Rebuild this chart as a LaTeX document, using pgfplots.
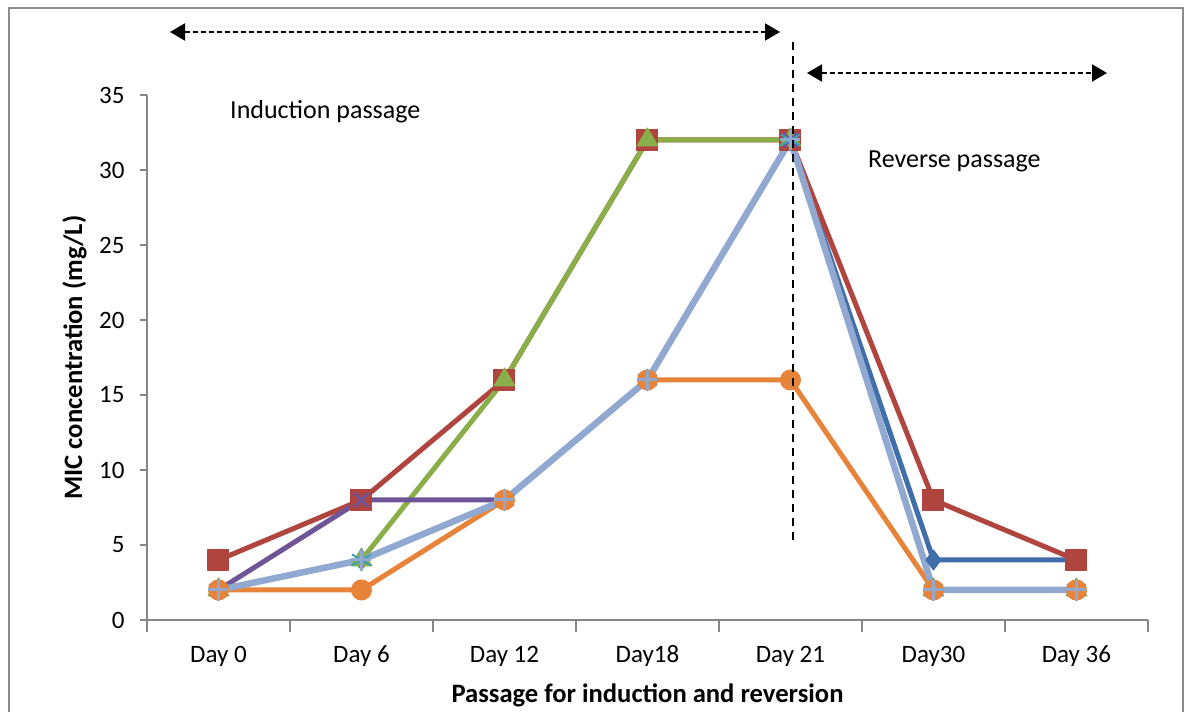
\documentclass[border=0pt]{standalone}
\usepackage{pgfplots}
\pgfplotsset{compat=1.18}
\usepackage{fontspec}
\setmainfont{Carlito}
\usetikzlibrary{arrows.meta}

\definecolor{sBlue}{HTML}{3F6EAA}
\definecolor{sRed}{HTML}{B0443F}
\definecolor{sGreen}{HTML}{8AAE48}
\definecolor{sPurple}{HTML}{6F5597}
\definecolor{sAqua}{HTML}{3FA0BA}
\definecolor{sOrange}{HTML}{E8843A}
\definecolor{sLight}{HTML}{91A9D1}
\definecolor{axisgray}{HTML}{868686}
\definecolor{framegray}{HTML}{8C8C8C}

\newcommand{\lblfont}{\fontsize{25}{30}\selectfont}
\newcommand{\notefont}{\fontsize{26}{31}\selectfont}
\newcommand{\titlefont}{\fontsize{26.6}{32}\selectfont\bfseries}

\begin{document}
\begin{tikzpicture}[x=1pt,y=1pt]
\useasboundingbox (0,0) rectangle (1192,712);
\fill[white] (0,0) rectangle (1192,712);
% outer chart frame
\draw[framegray, line width=2pt] (9,0) -- (9,704) -- (1183,704) -- (1183,0);

\begin{axis}[
  at={(147pt,92pt)}, anchor=south west,
  scale only axis, width=1001pt, height=525pt,
  xmin=-0.5, xmax=6.5, ymin=0, ymax=35,
  axis lines=left,
  axis line style={-, draw=axisgray, line width=1.5pt},
  tick align=outside,
  xtick={0,...,6},
  xticklabels={Day 0, Day 6, Day 12, Day18, Day 21, Day30, Day 36},
  minor xtick={-0.5,0.5,...,6.5},
  major x tick style={draw=none},
  minor tick length=12pt,
  major tick length=7pt,
  ytick={0,5,...,35},
  tick style={draw=axisgray, line width=1.5pt},
  /pgf/number format/assume math mode=true,
  ticklabel style={font=\lblfont, text=black},
  xticklabel style={anchor=base, yshift=-36pt},
  yticklabel style={anchor=east, xshift=-12pt},
  clip=false,
]
% each series: Day 0, 6, 12, 18, 21, 30, 36
\addplot[draw=sBlue, line width=5pt, line join=round, mark=diamond*, mark size=10pt, mark options={line width=1pt, draw=sBlue, fill=sBlue}]
  coordinates {(0,2) (1,4) (2,8) (3,16) (4,32) (5,4) (6,4)};
\addplot[draw=sRed, line width=5pt, line join=round, mark=square*, mark size=10.5pt, mark options={line width=1pt, draw=sRed, fill=sRed}]
  coordinates {(0,4) (1,8) (2,16) (3,32) (4,32) (5,8) (6,4)};
\addplot[draw=sGreen, line width=5pt, line join=round, mark=triangle*, mark size=12pt, mark options={line width=1pt, draw=sGreen, fill=sGreen}]
  coordinates {(0,2) (1,4) (2,16) (3,32) (4,32) (5,2) (6,2)};
\addplot[draw=sPurple, line width=5pt, line join=round, mark=x, mark size=10pt, mark options={line width=3pt, draw=sPurple}]
  coordinates {(0,2) (1,8) (2,8) (3,16) (4,32) (5,2) (6,2)};
\addplot[draw=sAqua, line width=5pt, line join=round, mark=asterisk, mark size=11pt, mark options={line width=2pt, draw=sAqua}]
  coordinates {(0,2) (1,4) (2,8) (3,16) (4,32) (5,2) (6,2)};
\addplot[draw=sOrange, line width=5pt, line join=round, mark=*, mark size=10pt, mark options={line width=1pt, draw=sOrange, fill=sOrange}]
  coordinates {(0,2) (1,2) (2,8) (3,16) (4,16) (5,2) (6,2)};
\addplot[draw=sLight, line width=6.5pt, line join=round, mark=+, mark size=10pt, mark options={line width=3pt, draw=sLight}]
  coordinates {(0,2) (1,4) (2,8) (3,16) (4,32) (5,2) (6,2)};
\end{axis}

% axis titles
\node[rotate=90, anchor=base, font=\titlefont] at (82,354.5) {MIC concentration (mg/L)};
\node[anchor=base, font=\titlefont] at (647.5,9) {Passage for induction and reversion};

% phase markers
\draw[black, line width=2pt, dash pattern=on 8pt off 6pt] (793,670) -- (793,167);
\draw[black, line width=2pt, dash pattern=on 5pt off 3pt,
  {Triangle[length=15pt,width=17pt]}-{Triangle[length=15pt,width=17pt]}] (170,680) -- (780,680);
\draw[black, line width=2pt, dash pattern=on 5pt off 3pt,
  {Triangle[length=15pt,width=17pt]}-{Triangle[length=15pt,width=17pt]}] (807,639) -- (1107,639);
\node[anchor=base west, font=\notefont, inner sep=0pt] at (230,593) {Induction passage};
\node[anchor=base west, font=\notefont, inner sep=0pt] at (868,544) {Reverse passage};
\end{tikzpicture}
\end{document}
